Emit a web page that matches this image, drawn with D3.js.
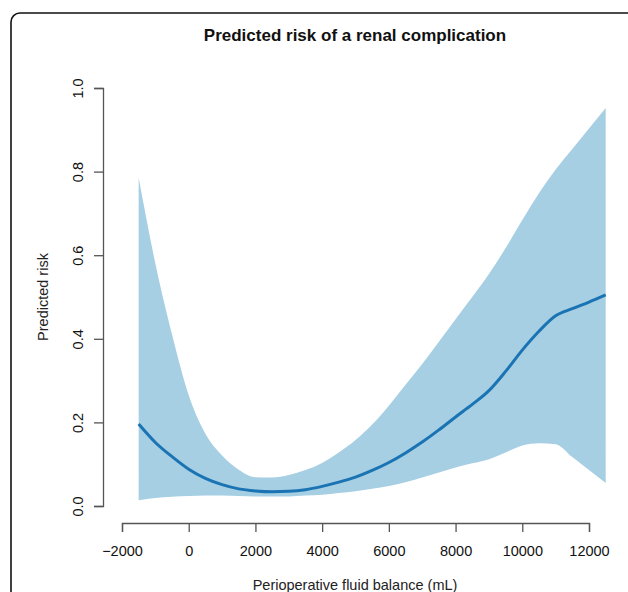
<!DOCTYPE html>
<html>
<head>
<meta charset="utf-8">
<script src="https://cdn.jsdelivr.net/npm/d3@7"></script>
<style>
  body { margin: 0; background: #fff; }
  svg { display: block; font-family: "Liberation Sans", Arial, Helvetica, sans-serif; }
</style>
</head>
<body>
<div id="chart"></div>
<script>
// values
const fluidBalance = [-1500, -1000, -500, 0, 500, 1000, 1500, 2000, 2500, 3000, 3500, 4000, 4500, 5000, 5500,
  6000, 6500, 7000, 7500, 8000, 8500, 9000, 9500, 10000, 10500, 11000, 11500, 12000, 12500];
const riskMean = [0.196, 0.152, 0.118, 0.088, 0.066, 0.051, 0.041, 0.036, 0.034, 0.035, 0.039, 0.047, 0.057, 0.069, 0.085,
  0.104, 0.127, 0.153, 0.182, 0.213, 0.243, 0.276, 0.322, 0.373, 0.418, 0.455, 0.472, 0.488, 0.505];
const riskUpper = [0.785, 0.58, 0.41, 0.265, 0.173, 0.121, 0.087, 0.069, 0.068, 0.074, 0.086, 0.103, 0.128, 0.158, 0.195,
  0.24, 0.29, 0.34, 0.393, 0.447, 0.5, 0.555, 0.617, 0.684, 0.748, 0.805, 0.854, 0.903, 0.952];
const riskLower = [0.014, 0.019, 0.022, 0.024, 0.025, 0.025, 0.024, 0.023, 0.023, 0.023, 0.025, 0.027, 0.031, 0.035, 0.041,
  0.048, 0.057, 0.068, 0.08, 0.092, 0.102, 0.112, 0.128, 0.145, 0.15, 0.148, 0.117, 0.086, 0.055];
const xTicks = [-2000, 0, 2000, 4000, 6000, 8000, 10000, 12000];
const yTicks = [0, 0.2, 0.4, 0.6, 0.8, 1.0];

const chartTitle = "Predicted risk of a renal complication";
const xTitle = "Perioperative fluid balance (mL)";
const yTitle = "Predicted risk";

const width = 628;
const height = 592;

const rows = fluidBalance.map((d, i) => ({
  x: d,
  mean: riskMean[i],
  lo: riskLower[i],
  hi: riskUpper[i],
}));

const svg = d3
  .select("#chart")
  .append("svg")
  .attr("width", width)
  .attr("height", height);

// rounded panel frame (runs off the right and bottom edges)
svg
  .append("rect")
  .attr("x", 11)
  .attr("y", 13)
  .attr("width", 626)
  .attr("height", 620)
  .attr("rx", 9)
  .attr("fill", "none")
  .attr("stroke", "#111")
  .attr("stroke-width", 1.6);

const x = d3.scaleLinear().domain([-2000, 12000]).range([122, 589]);
const y = d3.scaleLinear().domain([0, 1]).range([506, 88]);

// confidence band
const band = d3
  .area()
  .x((d) => x(d.x))
  .y0((d) => y(d.lo))
  .y1((d) => y(d.hi))
  .curve(d3.curveMonotoneX);

svg.append("path").datum(rows).attr("d", band).attr("fill", "#a6cfe4");

// predicted risk
const line = d3
  .line()
  .x((d) => x(d.x))
  .y((d) => y(d.mean))
  .curve(d3.curveMonotoneX);

svg
  .append("path")
  .datum(rows)
  .attr("d", line)
  .attr("fill", "none")
  .attr("stroke", "#1a74b3")
  .attr("stroke-width", 3);

const fmtX = (d) => (d < 0 ? "\u2212" + Math.abs(d) : String(d));

const xAxis = svg
  .append("g")
  .attr("transform", "translate(0,523)")
  .call(d3.axisBottom(x).tickValues(xTicks).tickSize(9).tickFormat(fmtX));

const yAxis = svg
  .append("g")
  .attr("transform", "translate(103,0)")
  .call(d3.axisLeft(y).tickValues(yTicks).tickSize(9).tickFormat(d3.format(".1f")));

[xAxis, yAxis].forEach((g) => {
  g.selectAll("path, line").attr("stroke", "#555").attr("stroke-width", 1.3);
  g.selectAll("text")
    .attr("fill", "#111")
    .style("font-size", "14.5px")
    .style("font-family", "'Liberation Sans', Arial, sans-serif");
});

xAxis.selectAll("text").attr("y", 0).attr("dy", 0).attr("transform", "translate(0,33)");

yAxis
  .selectAll("text")
  .attr("x", 0)
  .attr("y", -20)
  .attr("dy", 0)
  .attr("text-anchor", "middle")
  .attr("transform", "rotate(-90)");

// titles
svg
  .append("text")
  .attr("x", 355)
  .attr("y", 41)
  .attr("text-anchor", "middle")
  .style("font-size", "17px")
  .style("font-weight", "bold")
  .attr("fill", "#111")
  .text(chartTitle);

svg
  .append("text")
  .attr("x", 355)
  .attr("y", 590)
  .attr("text-anchor", "middle")
  .style("font-size", "14.5px")
  .attr("fill", "#222")
  .text(xTitle);

svg
  .append("text")
  .attr("transform", "translate(48,297) rotate(-90)")
  .attr("text-anchor", "middle")
  .style("font-size", "14.5px")
  .attr("fill", "#222")
  .text(yTitle);
</script>
</body>
</html>
